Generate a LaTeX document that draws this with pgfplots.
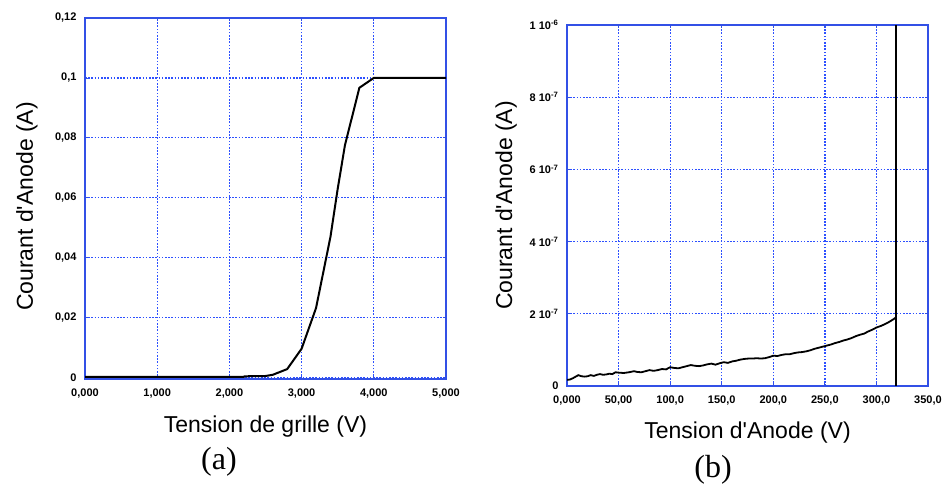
\documentclass[border=0pt]{standalone}
\usepackage{fontspec}
\setmainfont{Liberation Sans}
\newfontfamily\serifcap{Liberation Serif}
\usepackage{pgfplots}
\pgfplotsset{compat=1.18}
\definecolor{frameblue}{RGB}{50,80,230}
\definecolor{gridblue}{RGB}{45,80,255}
\pgfplotsset{
  myaxis/.style={
    scale only axis, width=361pt, height=361pt,
    axis line style={frameblue, line width=1.2pt},
    grid=major,
    major grid style={draw=gridblue, dash pattern=on 1.6pt off 1.6pt, line width=1.3pt},
    tick style={frameblue, line width=0.8pt},
    major tick length=3pt,
    tick align=inside,
    tick label style={font=\fontsize{11}{12}\selectfont\bfseries},
    xticklabel style={yshift=-6pt},
    yticklabel style={xshift=-5pt},
    label style={font=\fontsize{23}{26}\selectfont},
  }
}
\begin{document}
\begin{tikzpicture}
\path[use as bounding box] (0,0) rectangle (952pt,486pt);
\begin{axis}[myaxis,
  at={(85pt,107pt)}, anchor=south west,
  xmin=0, xmax=5000, ymin=-0.0005, ymax=0.12,
  xtick={0,1000,2000,3000,4000,5000},
  xticklabels={{0,000},{1,000},{2,000},{3,000},{4,000},{5,000}},
  ytick={0,0.02,0.04,0.06,0.08,0.1,0.12},
  yticklabels={{0},{0,02},{0,04},{0,06},{0,08},{0,1},{0,12}},
  scaled ticks=false,
  xlabel={Tension de grille (V)},
  ylabel={Courant d\textquotesingle Anode (A)},
  xlabel style={at={(axis description cs:0.5,0)}, anchor=base, yshift=-54pt},
  ylabel style={at={(axis description cs:0,0.5)}, anchor=base, yshift=52pt, xshift=-8pt},
]
\addplot[black, line width=2pt] coordinates {
(0,0.0002) (2200,0.0002) (2210,0.0004) (2500,0.0005) (2600,0.0009) (2800,0.0028)
(3000,0.0096) (3200,0.0232) (3400,0.047) (3500,0.063) (3600,0.0775)
(3800,0.0967) (4000,0.1) (5000,0.1)};
\end{axis}
\begin{axis}[myaxis,
  at={(567pt,100pt)}, anchor=south west,
  xmin=0, xmax=350, ymin=0, ymax=10,
  xtick={0,50,100,150,200,250,300,350},
  xticklabels={{0,000},{50,00},{100,0},{150,0},{200,0},{250,0},{300,0},{350,0}},
  ytick={0,2,4,6,8,10},
  yticklabels={{0},{2 10\textsuperscript{-7}},{4 10\textsuperscript{-7}},{6 10\textsuperscript{-7}},{8 10\textsuperscript{-7}},{1 10\textsuperscript{-6}}},
  xlabel={Tension d\textquotesingle Anode (V)},
  ylabel={Courant d\textquotesingle Anode (A)},
  xlabel style={at={(axis description cs:0.5,0)}, anchor=base, yshift=-53pt},
  ylabel style={at={(axis description cs:0,0.5)}, anchor=base, yshift=55pt},
]
\addplot[black, line width=1.8pt] coordinates {
(0,0.17) (3,0.18) (6,0.22) (9,0.27) (11,0.30) (14,0.27) (17,0.26) (20,0.27)
(23,0.30) (26,0.28) (29,0.31) (32,0.33) (35,0.31) (38,0.32) (41,0.34) (44,0.33)
(47,0.38) (50,0.37) (55,0.36) (60,0.38) (65,0.41) (68,0.39) (72,0.38) (76,0.41)
(80,0.44) (84,0.42) (88,0.44) (92,0.47) (96,0.46) (100,0.52) (104,0.50) (108,0.49)
(112,0.52) (116,0.55) (120,0.58) (124,0.56) (128,0.55) (132,0.57) (136,0.60)
(140,0.62) (144,0.59) (148,0.63) (152,0.66) (156,0.64) (160,0.68) (164,0.70)
(168,0.73) (172,0.75) (176,0.76) (180,0.76) (184,0.77) (188,0.76) (192,0.77)
(196,0.80) (200,0.84) (204,0.83) (208,0.86) (212,0.88) (216,0.88) (220,0.91)
(224,0.93) (228,0.94) (232,0.96) (236,0.99) (240,1.03) (244,1.06) (248,1.09)
(252,1.12) (256,1.15) (260,1.19) (264,1.22) (268,1.26) (272,1.29) (276,1.33)
(280,1.38) (284,1.42) (288,1.45) (292,1.51) (296,1.56) (300,1.62) (304,1.66)
(308,1.71) (312,1.77) (316,1.84) (319,1.90)};
\addplot[black, line width=2.2pt] coordinates {(319,0) (319,6)};
\addplot[black, line width=1.4pt] coordinates {(319,0) (319,10)};
\end{axis}
\node[font=\serifcap\fontsize{32}{34}\selectfont] at (219pt,24pt) {(a)};
\node[font=\serifcap\fontsize{32}{34}\selectfont] at (713pt,16pt) {(b)};
\end{tikzpicture}
\end{document}
